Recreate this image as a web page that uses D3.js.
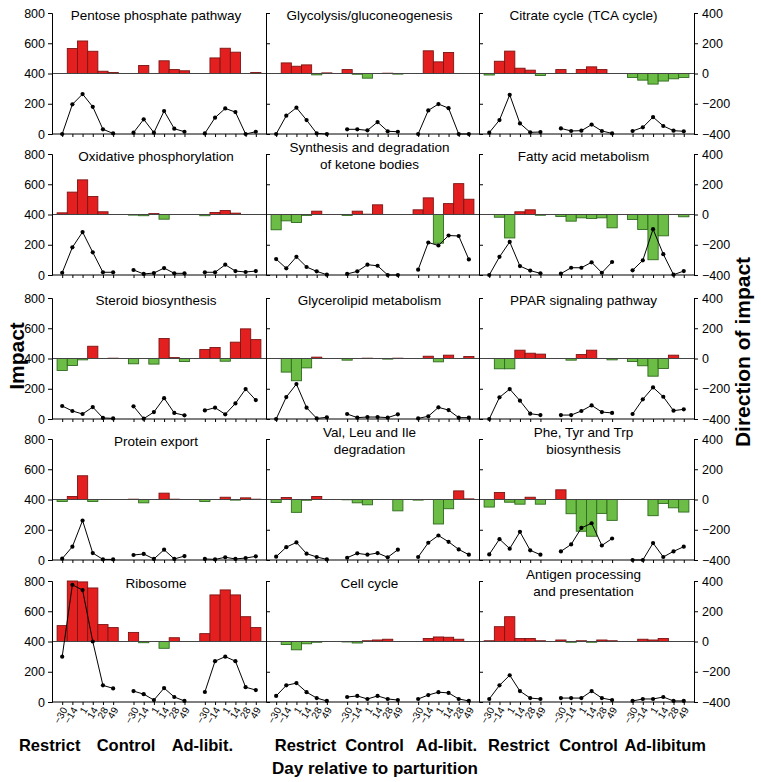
<!DOCTYPE html>
<html><head><meta charset="utf-8">
<script src="https://cdn.jsdelivr.net/npm/d3@7"></script>
<style>
body{margin:0;background:#fff}
svg{display:block}
text{font-family:"Liberation Sans",Arial,Helvetica,sans-serif;fill:#000}
</style>
</head><body>
<svg id="chart" width="761" height="782"></svg>
<script>
// ---------- data ----------
const days = ["\u221230","\u221214","1","14","28","49"];
const groupsDefault = ["Restrict","Control","Ad-libit."];
const groupsLast = ["Restrict","Control","Ad-libitum"];
const impactTicks = [0,200,400,600,800];
const directionTicks = [-400,-200,0,200,400];

const titles = [
  "Pentose phosphate pathway","Glycolysis/gluconeogenesis","Citrate cycle (TCA cycle)",
  "Oxidative phosphorylation","Synthesis and degradation\nof ketone bodies","Fatty acid metabolism",
  "Steroid biosynthesis","Glycerolipid metabolism","PPAR signaling pathway",
  "Protein export","Val, Leu and Ile\ndegradation","Phe, Tyr and Trp\nbiosynthesis",
  "Ribosome","Cell cycle","Antigen processing\nand presentation"
];

// each array: Restrict(-30..49), Control(-30..49), Ad-libitum(-30..49)
const impactPentose    = [0,196,264,180,31,4, 9,97,9,152,35,15, 4,108,169,145,0,15];
const directionPentose = [0,165,215,147,15,7, 0,53,0,84,26,18, 0,103,167,141,0,7];
const impactGlycolysis    = [0,121,174,92,4,0, 31,31,24,79,18,15, 0,156,198,171,0,0];
const directionGlycolysis = [0,70,48,57,-9,4, 26,-5,-31,0,2,-4, 0,150,77,139,0,0];
const impactCitrate    = [9,92,259,70,11,13, 37,20,22,62,20,4, 20,44,112,53,22,18];
const directionCitrate = [-10,81,148,35,22,-13, 26,0,26,44,26,0, -26,-44,-70,-50,-35,-26];
const impactOxidative    = [15,183,284,150,18,18, 33,7,13,46,11,11, 18,18,68,26,20,26];
const directionOxidative = [11,148,229,119,18,0, -4,-8,6,-31,0,0, -8,13,26,9,0,0];
const impactKetone    = [105,44,120,53,24,2, 7,24,68,61,0,0, 35,215,195,261,258,103];
const directionKetone = [-101,-42,-53,-6,22,0, -6,22,2,64,0,0, 31,110,-190,72,204,101];
const impactFatty    = [0,120,219,59,29,11, 9,48,48,84,15,86, 31,97,303,138,2,26];
const directionFatty = [0,-18,-155,18,31,-5, -13,-44,-22,-26,-22,-88, -33,-99,-299,-141,0,-15];
const impactSteroid    = [86,53,33,79,7,4, 84,2,46,138,40,24, 57,75,31,103,198,125];
const directionSteroid = [-79,-46,-9,81,0,2, -35,0,-37,132,6,-20, 59,73,-18,108,196,125];
const impactGlycerolipid    = [0,145,231,75,4,11, 33,9,13,13,9,31, 4,18,77,59,9,9];
const directionGlycerolipid = [0,-90,-147,-62,9,0, -11,0,2,0,-4,2, 0,15,-22,22,0,13];
const impactPPAR    = [0,143,198,121,35,26, 26,26,53,90,46,40, 33,130,209,147,55,64];
const directionPPAR = [0,-68,-68,55,35,29, 0,-11,26,55,0,-9, -20,-48,-117,-66,22,0];
const impactProtein    = [9,88,261,46,4,4, 33,40,7,68,7,26, 7,4,18,7,13,24];
const directionProtein = [-13,20,157,-13,0,0, 2,-22,0,42,2,0, -13,0,15,-4,11,2];
const impactValLeuIle    = [22,85,116,42,20,4, 15,44,35,46,18,68, 20,114,162,120,70,35];
const directionValLeuIle = [-20,13,-85,-5,20,0, -2,-22,-35,0,0,-75, -4,0,-162,-61,57,4];
const impactPheTyrTrp    = [37,138,75,186,64,35, 57,103,212,243,96,142, 0,0,112,20,57,88];
const directionPheTyrTrp = [-50,46,-18,-31,15,-31, 64,-94,-210,-243,-92,-138, 0,0,-107,-26,-55,-83];
const impactRibosome    = [300,775,740,400,110,90, 72,52,13,92,33,7, 66,270,300,270,98,79];
const directionRibosome = [105,400,394,354,112,92, 60,-8,0,-45,25,0, 52,308,341,308,164,92];
const impactCellCycle    = [40,110,125,65,26,7, 33,40,20,40,20,13, 20,46,65,60,20,7];
const directionCellCycle = [0,-20,-55,-15,-5,0, -3,-10,5,10,15,0, 0,20,30,28,15,0];
const impactAntigen    = [20,110,177,72,26,20, 26,26,26,72,26,13, 7,20,20,33,7,7];
const directionAntigen = [5,98,164,20,20,5, 10,-5,5,-5,10,5, 0,15,10,20,0,0];

const impactSeries = [impactPentose,impactGlycolysis,impactCitrate,impactOxidative,impactKetone,impactFatty,
  impactSteroid,impactGlycerolipid,impactPPAR,impactProtein,impactValLeuIle,impactPheTyrTrp,
  impactRibosome,impactCellCycle,impactAntigen];
const directionSeries = [directionPentose,directionGlycolysis,directionCitrate,directionOxidative,directionKetone,directionFatty,
  directionSteroid,directionGlycerolipid,directionPPAR,directionProtein,directionValLeuIle,directionPheTyrTrp,
  directionRibosome,directionCellCycle,directionAntigen];

// ---------- layout ----------
const colX = [52, 266, 479, 694];
const rowTop = [13, 154, 298, 439, 581];
const rowH = 121;
const RED = "#e3201f", RED_S = "#7d1414", GREEN = "#6cbd45", GREEN_S = "#2f6a1e";

const svg = d3.select("#chart");
const slotOf = i => Math.floor(i/6)*7 + (i%6);

titles.forEach((title, p) => {
  const r = Math.floor(p/3), c = p%3;
  const x0 = colX[c], x1 = colX[c+1];
  const top = rowTop[r], bottom = top + rowH;
  const x = d3.scaleLinear().domain([-1, 20]).range([x0, x1]);
  const bw = (x1 - x0)/21;
  const yI = d3.scaleLinear().domain([0, 800]).range([bottom, top]);
  const yD = d3.scaleLinear().domain([-400, 400]).range([bottom, top]);
  const g = svg.append("g");

  // bars
  const dir = directionSeries[p];
  g.selectAll("rect.bar").data(dir.map((v,i)=>({v,i})).filter(d=>d.v!==0)).enter()
    .append("rect")
    .attr("x", d => x(slotOf(d.i)) - bw/2)
    .attr("width", bw)
    .attr("y", d => yD(Math.max(0,d.v)))
    .attr("height", d => Math.abs(yD(d.v) - yD(0)))
    .attr("fill", d => d.v > 0 ? RED : GREEN)
    .attr("stroke", d => d.v > 0 ? RED_S : GREEN_S)
    .attr("stroke-width", 0.9);

  // zero direction line
  g.append("line").attr("x1", x0).attr("x2", x1).attr("y1", yD(0)).attr("y2", yD(0))
    .attr("stroke", "#444").attr("stroke-width", 1);

  // impact lines
  const imp = impactSeries[p];
  const line = d3.line().x(d => x(slotOf(d.i))).y(d => yI(d.v));
  for (let gi = 0; gi < 3; gi++) {
    const pts = imp.slice(gi*6, gi*6+6).map((v,j)=>({v, i: gi*6+j}));
    g.append("path").attr("d", line(pts)).attr("fill","none").attr("stroke","#000").attr("stroke-width",1);
    g.selectAll(null).data(pts).enter().append("circle")
      .attr("cx", d => x(slotOf(d.i))).attr("cy", d => yI(d.v)).attr("r", 2.1).attr("fill","#000");
  }

  // x axis (impact 0)
  const xAxis = d3.axisBottom(x).tickValues(d3.range(18).map(slotOf)).tickSize(3).tickFormat("");
  const xa = g.append("g").attr("transform", `translate(0,${bottom})`).call(xAxis);
  xa.select(".domain").attr("d", `M${x0},0H${x1}`);
  if (r === 4) {
    xa.selectAll(".tick").append("text")
      .attr("transform", "translate(2,6) rotate(-60)")
      .attr("text-anchor", "end")
      .attr("dy", "0.35em")
      .style("font-size", "10px")
      .text((d,i) => days[i%6]);
  }

  // vertical axes
  if (c === 0) {
    const la = g.append("g").attr("transform", `translate(${x0},0)`)
      .call(d3.axisLeft(yI).tickValues(impactTicks).tickSize(4).tickPadding(3));
    la.selectAll("text").style("font-size","12.5px");
  } else {
    g.append("g").attr("transform", `translate(${x0},0)`)
      .call(d3.axisRight(yI).tickValues([200,600,800]).tickSize(4).tickFormat(""));
  }
  if (c === 2) {
    const ra = g.append("g").attr("transform", `translate(${x1},0)`)
      .call(d3.axisRight(yD).tickValues(directionTicks).tickSize(4).tickPadding(4));
    ra.selectAll("text").style("font-size","12.5px");
  }

  // title
  const lines = title.split("\n");
  const cx = (x0 + x1)/2 - 3;
  const tt = g.append("text").attr("text-anchor","middle").style("font-size","13.5px");
  if (lines.length === 1) {
    tt.append("tspan").attr("x", cx).attr("y", top + 7).text(lines[0]);
  } else {
    lines.forEach((l, k) => tt.append("tspan").attr("x", cx).attr("y", top - 2 + k*17).text(l));
  }

  // group labels
  if (r === 4) {
    const groups = c === 2 ? groupsLast : groupsDefault;
    const shift = c === 0 ? [-38, -33, -28] : [4, 2, 3];
    groups.forEach((gl, k) => {
      const gc = (x(k*7) + x(k*7+5))/2 + shift[k] + (c===2 && k===2 ? 4 : 0);
      g.append("text").attr("x", gc).attr("y", 751).attr("text-anchor","middle")
        .style("font-size","16.5px").style("font-weight","bold").text(gl);
    });
  }
});

// axis titles
svg.append("text").attr("transform","translate(24,356) rotate(-90)").attr("text-anchor","middle")
  .style("font-size","21px").style("font-weight","bold").text("Impact");
svg.append("text").attr("transform","translate(750,352) rotate(-90)").attr("text-anchor","middle")
  .style("font-size","21px").style("font-weight","bold").text("Direction of impact");
svg.append("text").attr("x", 375).attr("y", 774).attr("text-anchor","middle")
  .style("font-size","17px").style("font-weight","bold").text("Day relative to parturition");
</script>
</body></html>
